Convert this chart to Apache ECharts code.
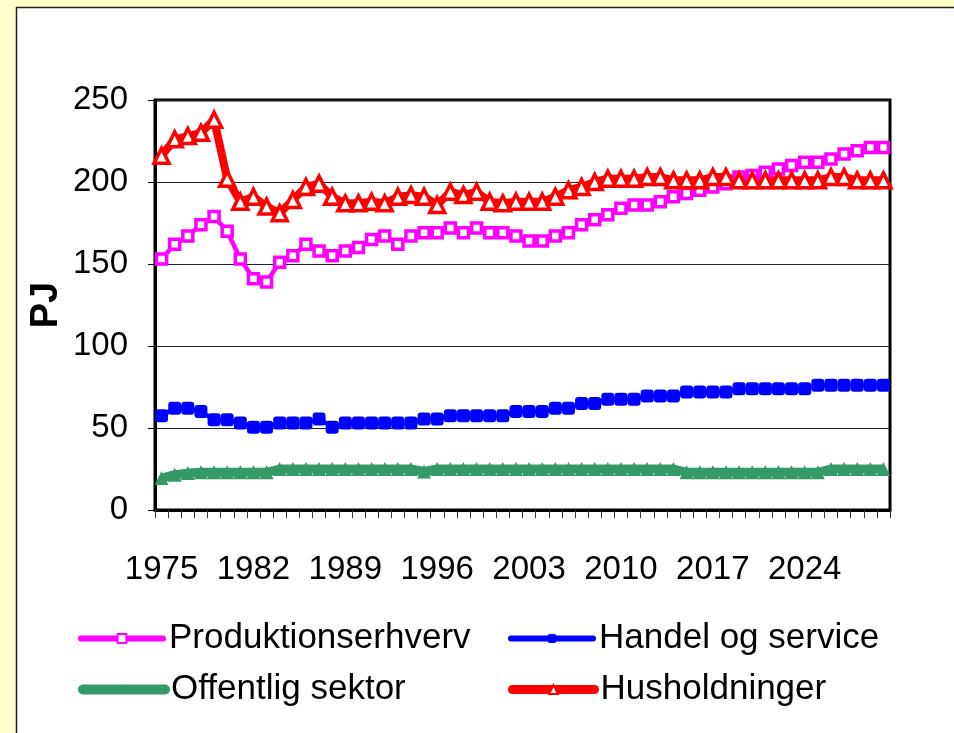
<!DOCTYPE html>
<html>
<head>
<meta charset="utf-8">
<script src="https://cdn.jsdelivr.net/npm/echarts/dist/echarts.min.js"></script>
<style>
  html, body { margin: 0; padding: 0; background: #ffffcc; }
  #main { width: 954px; height: 733px; }
</style>
</head>
<body>
<div id="main"></div>
<script>
// years on the category axis
var years = ['1975','1976','1977','1978','1979','1980','1981','1982','1983','1984',
  '1985','1986','1987','1988','1989','1990','1991','1992','1993','1994',
  '1995','1996','1997','1998','1999','2000','2001','2002','2003','2004',
  '2005','2006','2007','2008','2009','2010','2011','2012','2013','2014',
  '2015','2016','2017','2018','2019','2020','2021','2022','2023','2024',
  '2025','2026','2027','2028','2029','2030'];

// PJ
var produktion = [153,162,167,174,179,170,153,141,139,151,
  155,162,158,155,158,160,165,167,162,167,
  169,169,172,169,172,169,169,167,164,164,
  167,169,174,177,180,184,186,186,188,191,
  193,195,197,199,203,204,206,208,210,212,
  212,214,217,219,221,221];

var handel = [57.5,62,62,60,55,55,53,50.5,50.5,53,
  53,53,55.5,50.5,53,53,53,53,53,53,
  55.5,55.5,57.5,57.5,57.5,57.5,57.5,60,60,60,
  62,62,65,65,67.5,67.5,67.5,69.5,69.5,69.5,
  72,72,72,72,74,74,74,74,74,74,
  76,76,76,76,76,76];

var offentlig = [19.5,21.5,22.5,23,23,23,23,23,23,25,
  25,25,25,25,25,25,25,25,25,25,
  23.5,25,25,25,25,25,25,25,25,25,
  25,25,25,25,25,25,25,25,25,25,
  23,23,23,23,23,23,23,23,23,23,
  23,25,25,25,25,25];

var husholdninger = [216,226,228,230,238,202,188,191,185,181,
  189,197,199,191,187,187,188,187,191,192,
  191,186,194,192,194,188,187,188,188,188,
  191,195,197,200,202,202,202,203,203,201,
  201,201,203,203,201,201,201,201,201,201,
  201,203,203,201,201,201];

var yTicks = [0, 50, 100, 150, 200, 250];
var yTitle = 'PJ';

var FONT = "'Liberation Sans', Arial, sans-serif";

document.addEventListener('DOMContentLoaded', function() {
    var chart = echarts.init(document.getElementById('main'));

    // one legend box per entry so the 2x2 layout sits where the original has it
    function legendBox(name, left, top, lineWidth) {
        return {
            data: [name],
            left: left,
            top: top,
            itemWidth: 82,
            itemHeight: 11,
            itemGap: 0,
            lineStyle: { width: lineWidth, cap: 'round' },
            textStyle: { fontFamily: FONT, fontSize: 35, color: '#000', padding: [0, 0, 0, 1] },
            selectedMode: false
        };
    }

    var option = {
        backgroundColor: '#ffffcc',
        animation: false,
        graphic: [{
            type: 'rect',
            z: -10,
            silent: true,
            shape: { x: 16.5, y: 7.5, width: 960, height: 760 },
            style: { fill: '#fff', stroke: '#222', lineWidth: 1.5 }
        }, {
            // axis name drawn by hand, the built-in one would not sit where the original has it
            type: 'text',
            x: 47,
            y: 305,
            rotation: Math.PI / 2,
            silent: true,
            style: {
                text: yTitle,
                font: 'bold 38px ' + FONT,
                fill: '#000',
                align: 'center',
                verticalAlign: 'middle'
            }
        }],
        grid: {
            left: 155, right: 64, top: 100, bottom: 223,
            show: true,
            borderColor: '#000',
            borderWidth: 3,
            outerBoundsMode: 'none'
        },
        legend: [
            legendBox('Produktionserhverv', 73, 616, 6),
            legendBox('Handel og service', 503, 616, 6),
            legendBox('Offentlig sektor', 73, 667, 10),
            legendBox('Husholdninger', 503, 667, 9)
        ],
        xAxis: {
            type: 'category',
            data: years,
            boundaryGap: true,
            axisLine: { lineStyle: { color: '#000', width: 3 } },
            axisTick: { show: true, interval: 0, length: 8, lineStyle: { color: '#333', width: 1 } },
            axisLabel: { interval: 6, margin: 43, fontFamily: FONT, fontSize: 33, color: '#000', hideOverlap: false },
            splitLine: { show: false }
        },
        yAxis: {
            type: 'value',
            min: yTicks[0],
            max: yTicks[yTicks.length - 1],
            interval: 50,
            axisLine: { show: true, lineStyle: { color: '#000', width: 3 } },
            axisTick: { show: true, length: 7, lineStyle: { color: '#000', width: 1 } },
            axisLabel: { margin: 27, fontFamily: FONT, fontSize: 33, color: '#000' },
            splitLine: { show: true, lineStyle: { color: '#222', width: 1 } }
        },
        series: [{
            name: 'Produktionserhverv',
            type: 'line',
            data: produktion,
            symbol: 'rect',
            symbolSize: 10,
            showAllSymbol: true,
            itemStyle: { color: '#fff', borderColor: '#ff00ff', borderWidth: 3.5 },
            lineStyle: { color: '#ff00ff', width: 4.5 }
        }, {
            name: 'Handel og service',
            type: 'line',
            data: handel,
            symbol: 'roundRect',
            symbolSize: 13,
            showAllSymbol: true,
            itemStyle: { color: '#0000ff' },
            lineStyle: { color: '#0000ff', width: 4.5 }
        }, {
            name: 'Offentlig sektor',
            type: 'line',
            data: offentlig,
            symbol: 'triangle',
            symbolSize: 14,
            showAllSymbol: true,
            itemStyle: { color: '#339966' },
            lineStyle: { color: '#339966', width: 9 }
        }, {
            name: 'Husholdninger',
            type: 'line',
            data: husholdninger,
            symbol: 'triangle',
            symbolSize: 15,
            showAllSymbol: true,
            itemStyle: { color: '#fff', borderColor: '#ff0000', borderWidth: 3.5 },
            lineStyle: { color: '#ff0000', width: 8 }
        }]
    };

    chart.setOption(option);
});
</script>
</body>
</html>
